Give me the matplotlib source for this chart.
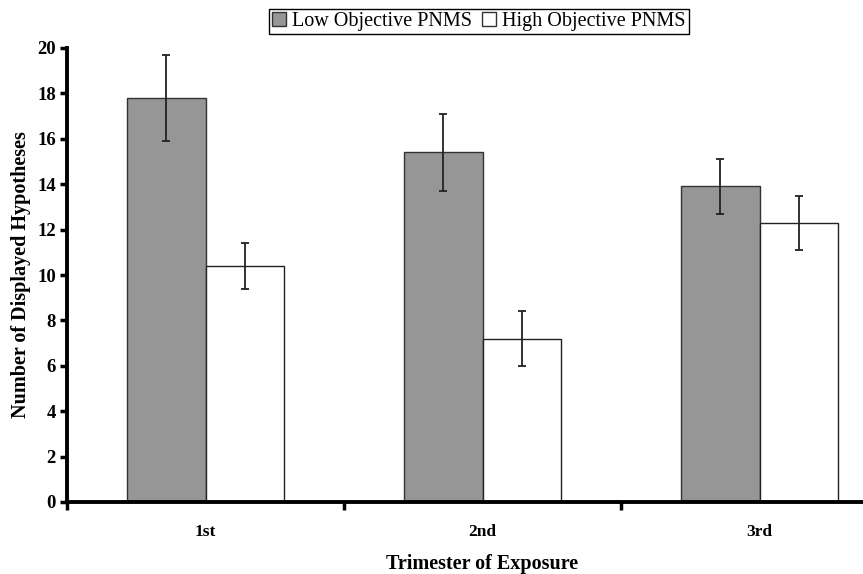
import matplotlib
matplotlib.use("Agg")
import matplotlib.pyplot as plt
import numpy as np
from matplotlib.patches import Patch

categories = ["1st", "2nd", "3rd"]
low_pnms = [17.8, 15.4, 13.9]
low_err = [1.9, 1.7, 1.2]
high_pnms = [10.4, 7.2, 12.3]
high_err = [1.0, 1.2, 1.2]

plt.rcParams["font.family"] = ["Liberation Serif", "DejaVu Serif"]

fig = plt.figure(figsize=(8.63, 5.74), dpi=100)
ax = fig.add_axes([67 / 863, 72 / 574, 831 / 863, 454 / 574])

x = np.arange(len(categories))
w = 0.285
gray = "#969696"
ax.bar(x - w / 2, low_pnms, w, color=gray, edgecolor="#333333", linewidth=1.0)
ax.bar(x + w / 2, high_pnms, w, color="white", edgecolor="#222222", linewidth=1.0)
ax.errorbar(x - w / 2, low_pnms, yerr=low_err, fmt="none", ecolor="#222222",
            elinewidth=1.3, capsize=3, capthick=1.3)
ax.errorbar(x + w / 2, high_pnms, yerr=high_err, fmt="none", ecolor="#222222",
            elinewidth=1.3, capsize=3, capthick=1.3)

ax.set_xlim(-0.5, 2.5)
ax.set_ylim(0, 20)
ax.set_yticks(range(0, 21, 2))
ax.set_xticks(x)
ax.set_xticklabels(categories)
ax.set_xticks([-0.5, 0.5, 1.5, 2.5], minor=True)
ax.tick_params(axis="x", which="major", length=0, pad=16, labelsize=12.5)
ax.tick_params(axis="x", which="minor", length=6, width=2.5, direction="out")
ax.tick_params(axis="y", length=5, width=2.5, direction="out", labelsize=13.5, pad=3)
for lab in ax.get_xticklabels() + ax.get_yticklabels():
    lab.set_fontweight("bold")

for s in ["top", "right"]:
    ax.spines[s].set_visible(False)
for s in ["left", "bottom"]:
    ax.spines[s].set_linewidth(2.8)

ax.set_xlabel("Trimester of Exposure", fontsize=14.5, fontweight="bold", labelpad=10)
ax.set_ylabel("Number of Displayed Hypotheses", fontsize=14.5, fontweight="bold", labelpad=4.5)

handles = [Patch(facecolor=gray, edgecolor="#333333", label="Low Objective PNMS"),
           Patch(facecolor="white", edgecolor="#333333", label="High Objective PNMS")]
leg = fig.legend(handles=handles, loc="upper center", bbox_to_anchor=(479 / 863, 0.995),
                 ncol=2, fancybox=False, framealpha=1, edgecolor="black",
                 fontsize=14.5, handlelength=0.7, handleheight=0.7, handletextpad=0.3,
                 columnspacing=0.5, borderpad=0.15, borderaxespad=0.3)
leg.get_frame().set_linewidth(1.0)

fig.savefig("out.png", dpi=100)
